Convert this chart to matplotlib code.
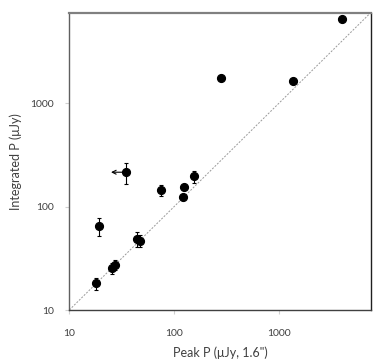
import matplotlib
matplotlib.use("Agg")
import matplotlib.pyplot as plt
import numpy as np

# Data
peak = [17.9, 19.4, 25.5, 27.4, 34.9, 44.0, 46.8, 74.6, 122, 125, 155, 281, 1360, 3950]
integ = [18.1, 65, 25.3, 27.2, 215, 48.5, 46.8, 144, 123, 153, 196, 1734, 1657, 6490]
integ_err = [2.5, 13, 3, 3, 49, 8, 6, 17, 6, 8, 25, 60, 50, 120]
upper_idx = 4          # index of the point with a peak upper limit
upper_arrow_to = 25.0  # arrow tip (peak)
xticks = [10, 100, 1000]
yticks = [10, 100, 1000]
lim = [10, 7500]

plt.rcParams['font.family'] = ['Lato', 'DejaVu Sans']

fig = plt.figure(figsize=(3.82, 3.60), dpi=100)
ax = fig.add_axes([69.3/382, 1 - 310/360, (370.7-69.3)/382, (310-12.7)/360])

ax.plot(lim, lim, linestyle=(0, (2, 1.5)), color='#9a9a9a', linewidth=0.7, zorder=1)

ax.errorbar(peak, integ, yerr=integ_err, fmt='o', color='black', markersize=5.6,
            ecolor='black', elinewidth=0.8, capsize=1.3, capthick=0.8, zorder=3)

ax.annotate('', xy=(upper_arrow_to, integ[upper_idx]), xytext=(peak[upper_idx], integ[upper_idx]),
            arrowprops=dict(arrowstyle='->', color='black', lw=0.8, shrinkA=0, shrinkB=0,
                            mutation_scale=7), zorder=2)

ax.set_xscale('log')
ax.set_yscale('log')
ax.set_xlim(lim)
ax.set_ylim(lim)
ax.set_xticks(xticks)
ax.set_yticks(yticks)
ax.set_xticklabels([str(t) for t in xticks])
ax.set_yticklabels([str(t) for t in yticks])
ax.minorticks_off()
ax.tick_params(axis='both', which='major', labelsize=7.5, colors='#d0d0d0',
               labelcolor='#404040', length=3, width=0.8, direction='out')
ax.tick_params(axis='x', pad=11)
ax.tick_params(axis='y', pad=8)

ax.spines['top'].set_color('#808080')
ax.spines['top'].set_linewidth(1.6)
ax.spines['left'].set_color('#606060')
ax.spines['left'].set_linewidth(1.0)
ax.spines['bottom'].set_color('#404040')
ax.spines['bottom'].set_linewidth(1.0)
ax.spines['right'].set_color('#202020')
ax.spines['right'].set_linewidth(1.0)

ax.set_xlabel('Peak P (\u03bcJy, 1.6")', fontsize=9, color='#404040', labelpad=6)
ax.set_ylabel('Integrated P (\u03bcJy)', fontsize=9, color='#404040', labelpad=6)

fig.savefig('out.png', dpi=100)
